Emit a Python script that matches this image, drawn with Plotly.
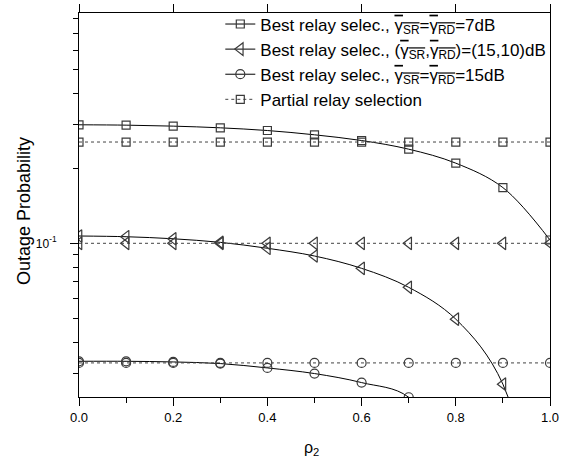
import plotly.graph_objects as go
import math

# ---------------- data ----------------
rho2 = [0.0, 0.1, 0.2, 0.3, 0.4, 0.5, 0.6, 0.7, 0.8, 0.9, 1.0]

best_7dB = [0.300, 0.299, 0.2963, 0.2917, 0.2845, 0.2734, 0.2593, 0.2393, 0.2102, 0.1676, 0.1031]
best_15_10dB = [0.1070, 0.1063, 0.1043, 0.1009, 0.0955, 0.0889, 0.0793, 0.0665, 0.0495, 0.0271, 0.004]
best_15dB = [0.0335, 0.0335, 0.0333, 0.0328, 0.0315, 0.0299, 0.0275, 0.0240, 0.012, 0.006, 0.003]

partial_7dB = [0.2557, 0.2557, 0.2557, 0.2557, 0.2557, 0.2557, 0.2557, 0.2557, 0.2557, 0.2557, 0.2557]
partial_15_10dB = [0.1000, 0.1000, 0.1000, 0.1000, 0.1000, 0.1000, 0.1000, 0.1000, 0.1000, 0.1000, 0.1000]
partial_15dB = [0.0330, 0.0330, 0.0330, 0.0330, 0.0330, 0.0330, 0.0330, 0.0330, 0.0330, 0.0330, 0.0330]

x_major = [0.0, 0.2, 0.4, 0.6, 0.8, 1.0]
x_major_text = ["0.0", "0.2", "0.4", "0.6", "0.8", "1.0"]
x_minor = [0.1, 0.3, 0.5, 0.7, 0.9]
y_major = [0.1]
y_major_text = ["10<sup>-1</sup>"]
y_minor = [0.03, 0.04, 0.05, 0.06, 0.07, 0.08, 0.09, 0.2, 0.3, 0.4, 0.5, 0.6, 0.7, 0.8]
y_range = [0.02406, 0.8456]

OL = '<span style="text-decoration:overline">γ<sub>{}</sub></span>'
names = [
    "Best relay selec., " + OL.format("SR") + "=" + OL.format("RD") + "=7dB",
    "Best relay selec., (" + OL.format("SR") + "," + OL.format("RD") + ")=(15,10)dB",
    "Best relay selec., " + OL.format("SR") + "=" + OL.format("RD") + "=15dB",
    "Partial relay selection",
]

FONT = "Liberation Sans, Arial, sans-serif"
MCOL = "#3a3a3a"

fig = go.Figure()

best_sets = [(best_7dB, "square-open", 8), (best_15_10dB, "triangle-left-open", 11), (best_15dB, "circle-open", 9)]
for i, (vals, sym, sz) in enumerate(best_sets):
    fig.add_trace(go.Scatter(
        x=rho2, y=vals, mode="lines+markers", name=names[i],
        line=dict(color="black", width=1, shape="spline", smoothing=1.0),
        marker=dict(symbol=sym, size=sz, color=MCOL, line=dict(width=1.2, color=MCOL)),
        cliponaxis=True,
    ))

partial_sets = [(partial_7dB, "square-open", 8, True), (partial_15_10dB, "triangle-left-open", 11, False),
                (partial_15dB, "circle-open", 9, False)]
for vals, sym, sz, show in partial_sets:
    fig.add_trace(go.Scatter(
        x=rho2, y=vals, mode="lines+markers", name=names[3], showlegend=show,
        line=dict(color="#444444", width=1, dash="dot"),
        marker=dict(symbol=sym, size=sz, color=MCOL, line=dict(width=1.2, color=MCOL)),
        cliponaxis=True,
    ))

# dummy trace so the top (mirror) tick axis is drawn
fig.add_trace(go.Scatter(x=[None], y=[None], xaxis="x2", showlegend=False, hoverinfo="skip"))

W, H = 563, 462
ml, mr, mt, mb = 78.5, 13, 13.3, 65.3

fig.update_layout(
    width=W, height=H,
    margin=dict(l=ml, r=mr, t=mt, b=mb, pad=0, autoexpand=False),
    paper_bgcolor="white", plot_bgcolor="white",
    font=dict(family=FONT, color="black"),
    showlegend=True,
    legend=dict(
        x=0.30, y=1.017, xanchor="left", yanchor="top",
        bgcolor="rgba(0,0,0,0)", borderwidth=0,
        font=dict(family=FONT, size=17, color="black"),
        tracegroupgap=0,
    ),
    xaxis=dict(
        range=[0, 1], tickmode="array", tickvals=x_major, ticktext=x_major_text,
        ticks="outside", ticklen=8, tickwidth=1, tickcolor="black",
        minor=dict(tickmode="array", tickvals=x_minor, ticks="outside", ticklen=5, tickwidth=1, tickcolor="black"),
        showline=True, linecolor="black", linewidth=1, mirror=True,
        showgrid=False, zeroline=False,
        tickfont=dict(family=FONT, size=13),
    ),
    xaxis2=dict(
        range=[0, 1], overlaying="x", side="top", anchor="y",
        tickmode="array", tickvals=x_major, ticks="outside", ticklen=8, tickwidth=1, tickcolor="black",
        showticklabels=False, showline=False, showgrid=False, zeroline=False,
    ),
    yaxis=dict(
        type="log", range=[math.log10(y_range[0]), math.log10(y_range[1])],
        tickmode="array", tickvals=y_major, ticktext=y_major_text,
        ticks="outside", ticklen=8, tickwidth=1, tickcolor="black",
        minor=dict(tickmode="array", tickvals=y_minor, ticks="outside", ticklen=5, tickwidth=1, tickcolor="black"),
        showline=True, linecolor="black", linewidth=1, mirror=True,
        showgrid=False, zeroline=False, ticklabelstandoff=11,
        tickfont=dict(family=FONT, size=12),
    ),
    annotations=[
        dict(text="Outage Probability", xref="paper", yref="paper",
             x=(23 - ml) / (W - ml - mr), y=(H - mb - 211.5) / (H - mt - mb),
             xanchor="center", yanchor="middle", textangle=-90, showarrow=False,
             font=dict(family=FONT, size=18)),
        dict(text="ρ<sub>2</sub>", xref="paper", yref="paper",
             x=(311 - ml) / (W - ml - mr), y=(H - mb - 448) / (H - mt - mb),
             xanchor="center", yanchor="middle", showarrow=False,
             font=dict(family=FONT, size=16)),
    ],
)

fig.write_html("out.html")
